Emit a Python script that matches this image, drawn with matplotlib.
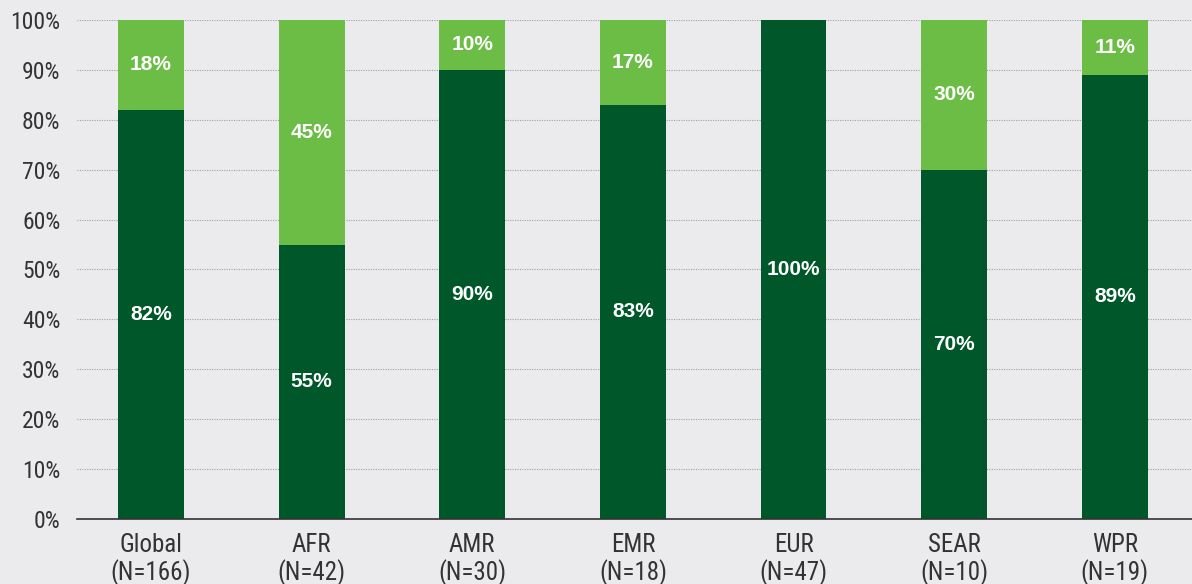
import matplotlib.pyplot as plt
from matplotlib import font_manager

regions = ['Global', 'AFR', 'AMR', 'EMR', 'EUR', 'SEAR', 'WPR']
counts = [166, 42, 30, 18, 47, 10, 19]
dark_pct = [82, 55, 90, 83, 100, 70, 89]
light_pct = [18, 45, 10, 17, 0, 30, 11]

names = {f.name for f in font_manager.fontManager.ttflist}
font = 'Liberation Sans'
for cand in ['Roboto Condensed', 'Liberation Sans Narrow', 'Open Sans Condensed']:
    if cand in names:
        font = cand
        break
plt.rcParams['font.family'] = [font, 'DejaVu Sans']
label_font = ['Liberation Sans', 'DejaVu Sans']

bg = '#ebebed'
dark = '#00582a'
light = '#6bbd45'

fig = plt.figure(figsize=(11.92, 5.84), dpi=100, facecolor=bg)
ax = fig.add_axes([0.0646, 0.1113, 0.9354, 0.8545], facecolor=bg)

x = list(range(len(regions)))
w = 0.41
ax.bar(x, dark_pct, width=w, color=dark, zorder=2)
ax.bar(x, light_pct, width=w, bottom=dark_pct, color=light, zorder=2)

for i in x:
    ax.text(i, dark_pct[i] / 2, f'{dark_pct[i]}%', ha='center', va='center',
            color='white', fontsize=15, fontweight='bold', family=label_font, zorder=3)
    if light_pct[i] > 0:
        ax.text(i, dark_pct[i] + light_pct[i] / 2, f'{light_pct[i]}%', ha='center',
                va='center', color='white', fontsize=15, fontweight='bold',
                family=label_font, zorder=3)

ax.set_ylim(0, 100)
ax.set_xlim(-0.46, 6.48)
ax.set_yticks(range(0, 101, 10))
ax.set_yticklabels([f'{v}%' for v in range(0, 101, 10)], fontsize=17, color='#333333')
ax.set_xticks(x)
ax.set_xticklabels([f'{r}\n(N={n})' for r, n in zip(regions, counts)],
                   fontsize=18, color='#333333', linespacing=1.1)
ax.tick_params(length=0)
ax.tick_params(axis='x', pad=10)
ax.tick_params(axis='y', pad=12)

ax.grid(axis='y', linestyle=(0, (1, 1.2)), color='#a0a0a0', linewidth=0.8, zorder=0)
for s in ['top', 'right', 'left']:
    ax.spines[s].set_visible(False)
ax.spines['bottom'].set_color('#333333')
ax.spines['bottom'].set_linewidth(1.2)
ax.spines['bottom'].set_zorder(4)

plt.savefig('out.png', dpi=100, facecolor=bg)
